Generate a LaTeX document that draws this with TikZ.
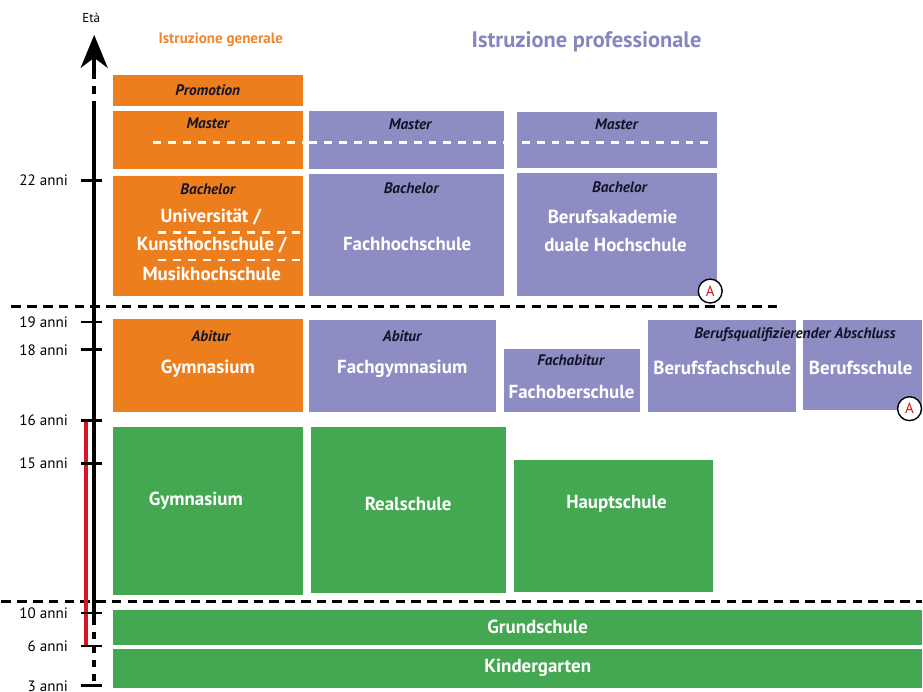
\documentclass[tikz,border=0pt]{standalone}
\usepackage{fontspec}
\setmainfont{PT Sans}
\usetikzlibrary{arrows.meta}
\definecolor{orangebox}{RGB}{236,126,30}
\definecolor{purplebox}{RGB}{141,141,196}
\definecolor{greenbox}{RGB}{68,168,82}
\definecolor{headorange}{RGB}{238,135,45}
\definecolor{headpurple}{RGB}{134,134,190}
\definecolor{axisred}{RGB}{215,20,35}
\definecolor{inkdark}{RGB}{20,20,40}
\begin{document}
\begin{tikzpicture}[x=0.02cm,y=-0.02cm,
    schoolname/.style={text=white,inner sep=0pt,font=\fontsize{10.8}{12}\selectfont\bfseries},
    degree/.style={text=inkdark,inner sep=0pt,font=\fontsize{8.7}{10}\selectfont\bfseries\itshape},
    agelabel/.style={anchor=east,inner sep=0pt,font=\fontsize{8.6}{10}\selectfont},
    agetick/.style={line width=1.6pt},
    splitline/.style={white,line width=1.5pt,dash pattern=on 4.5pt off 4pt},
    stageline/.style={black,line width=1.7pt,dash pattern=on 5.5pt off 3.5pt},
    circlea/.style={circle,draw=black,line width=0.8pt,fill=white,minimum size=0.48cm,inner sep=0pt,
        text=axisred,font=\fontsize{8.5}{9}\selectfont}]
        \fill[white] (0,0) rectangle (923,690);

        % headings
        \node[text=headorange,font=\fontsize{8.6}{10}\selectfont\bfseries] (generale) at (220,40) {Istruzione generale};
        \node[text=headpurple,font=\fontsize{12.8}{14}\selectfont\bfseries] (professionale) at (587,42) {Istruzione professionale};

        % tertiary level
        \fill[orangebox] (112,75) rectangle (302,106);
        \fill[orangebox] (112,111) rectangle (302,170);
        \fill[orangebox] (112,177) rectangle (302,297);
        \fill[purplebox] (309,111) rectangle (504,170);
        \fill[purplebox] (309,175) rectangle (504,297);
        \fill[purplebox] (517,112) rectangle (718,169);
        \fill[purplebox] (517,174) rectangle (718,297);
        \draw[splitline] (152,143) -- (302,143);
        \draw[splitline] (309,143) -- (504,143);
        \draw[splitline] (522,143) -- (716,143);
        \draw[splitline] (157,233) -- (302,233);
        \draw[splitline] (157,261) -- (302,261);

        \node[degree] (promotion) at (207,90) {Promotion};
        \node[degree] (master1) at (207,124) {Master};
        \node[degree] (master2) at (410,125) {Master};
        \node[degree] (master3) at (617,125) {Master};
        \node[degree] (bachelor1) at (207,190) {Bachelor};
        \node[degree] (bachelor2) at (411,189) {Bachelor};
        \node[degree] (bachelor3) at (620,188) {Bachelor};
        \node[schoolname] (uni) at (210,218) {Universität /};
        \node[schoolname] (kunst) at (211,246) {Kunsthochschule /};
        \node[schoolname] (musik) at (211,275) {Musikhochschule};
        \node[schoolname] (fhs) at (407,245) {Fachhochschule};
        \node[schoolname] (ba1) at (613,218) {Berufsakademie};
        \node[schoolname] (ba2) at (616,246) {duale Hochschule};

        % upper secondary level
        \fill[orangebox] (112,320) rectangle (302,413);
        \fill[purplebox] (309,321) rectangle (496,413);
        \fill[purplebox] (504,350) rectangle (641,413);
        \fill[purplebox] (649,321) rectangle (797,413);
        \fill[purplebox] (804,321) rectangle (923,411);

        \node[degree] (abitur1) at (210,337) {Abitur};
        \node[degree] (abitur2) at (402,337) {Abitur};
        \node[degree] (fachabitur) at (571,361) {Fachabitur};
        \node[degree] (abschluss) at (796,336) {Berufsqualifizierender Abschluss};
        \node[schoolname] (gym2) at (207,370) {Gymnasium};
        \node[schoolname] (fachgym) at (402,370) {Fachgymnasium};
        \node[schoolname] (fos) at (572,393) {Fachoberschule};
        \node[schoolname] (bfs) at (723,369) {Berufsfachschule};
        \node[schoolname] (bs) at (862,369) {Berufsschule};

        % lower secondary and primary level
        \fill[greenbox] (112,428) rectangle (302,597);
        \fill[greenbox] (311,428) rectangle (506,595);
        \fill[greenbox] (514,461) rectangle (714,594);
        \fill[greenbox] (112,612) rectangle (923,647);
        \fill[greenbox] (112,651) rectangle (923,690);

        \node[schoolname] (gym1) at (195,502) {Gymnasium};
        \node[schoolname] (real) at (408,506) {Realschule};
        \node[schoolname] (haupt) at (617,505) {Hauptschule};
        \node[schoolname] (grund) at (538,629) {Grundschule};
        \node[schoolname] (kita) at (538,670) {Kindergarten};

        % stage borders
        \draw[stageline] (10,307) -- (778,307);
        \draw[stageline] (0,603) -- (923,603);

        % age axis
        \draw[axisred,line width=2.3pt] (85,422) -- (85,648);
        \draw[line width=2.3pt,dash pattern=on 5pt off 4pt] (93,70) -- (93,105);
        \draw[line width=2.3pt] (93,105) -- (93,620);
        \draw[line width=2.3pt,dash pattern=on 4pt off 4pt] (93,620) -- (93,690);
        \draw[line width=2.3pt,-{Stealth[length=0.66cm,width=0.54cm,inset=0.2cm]}] (93,72) -- (93,35);
        \node[font=\fontsize{7.4}{9}\selectfont] (eta) at (90,18) {Età};

        \foreach \yy/\age in {181/22,323/19,351/18,422/16,465/15,615/10,648/6,688/3}
            \draw[agetick] (80,\yy) -- (101,\yy) node[agelabel] (anni\age) at (68,\yy) {\age\ anni};

        % connection marks
        \node[circlea] (linka) at (711,292) {A};
        \node[circlea] (linkb) at (911,410) {A};
\end{tikzpicture}
\end{document}
